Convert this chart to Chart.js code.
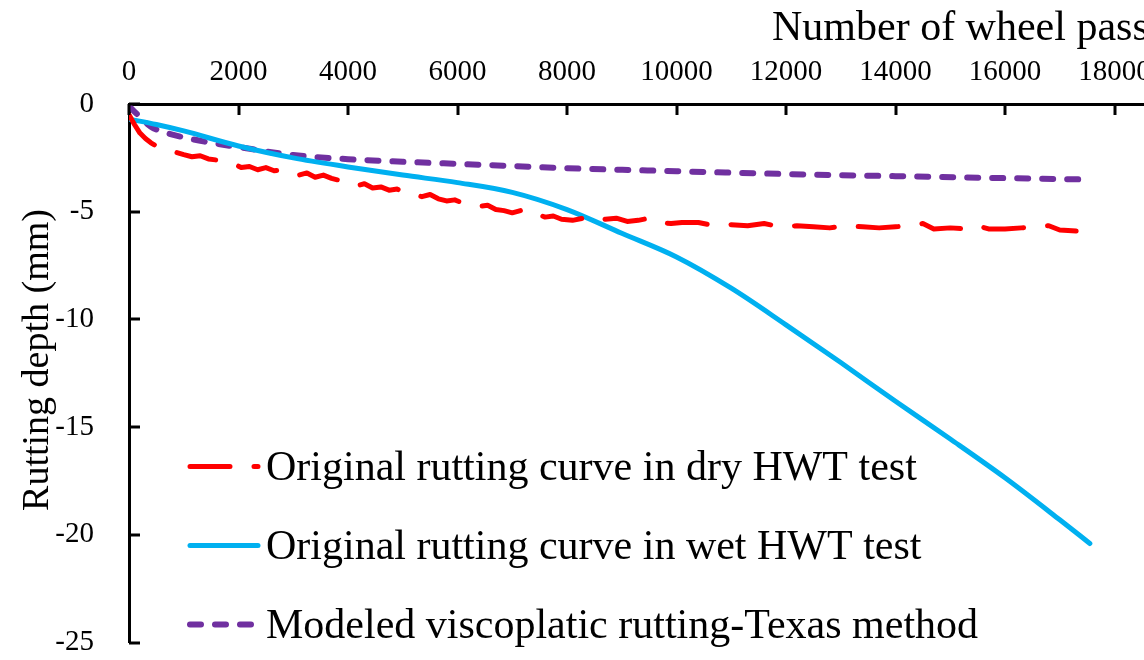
<!DOCTYPE html>
<html>
<head>
<meta charset="utf-8">
<title>Rutting depth vs wheel passes</title>
<script src="https://cdn.jsdelivr.net/npm/chart.js@4/dist/chart.umd.min.js"></script>
<style>
  html, body { margin: 0; padding: 0; background: #fff; }
  #frame { width: 1144px; height: 660px; overflow: hidden; position: relative; }
  #holder { width: 1264px; height: 660px; }
</style>
</head>
<body>
<div id="frame">
  <div id="holder"><canvas id="canvas" width="1264" height="660"></canvas></div>
</div>
<script>
// dry HWT test (measured, noisy)
const dryX = [0, 100, 200, 300, 400, 500, 600, 800, 1000, 1150, 1300, 1450, 1600, 1750, 1900, 2050,
  2200, 2350, 2500, 2650, 2800, 2950, 3100, 3250, 3400, 3550, 3700, 3850, 4000, 4150, 4300, 4450,
  4600, 4750, 4900, 5050, 5200, 5350, 5500, 5650, 5800, 5950, 6100, 6250, 6400, 6550, 6700, 6850,
  7000, 7150, 7300, 7450, 7600, 7750, 7900, 8100, 8300, 8500, 8700, 8900, 9100, 9300, 9500, 9700,
  9900, 10100, 10400, 10700, 11000, 11300, 11600, 11900, 12200, 12500, 12800, 13100, 13400, 13700,
  14000, 14300, 14500, 14700, 15000, 15300, 15500, 15700, 16000, 16300, 16600, 16800, 17000, 17300];
const dryY = [-0.5, -0.95, -1.35, -1.6, -1.8, -1.95, -2.05, -2.2, -2.35, -2.45, -2.4, -2.55, -2.6, -2.7, -2.75, -2.95,
  -2.9, -3.05, -2.95, -3.1, -3.05, -3.2, -3.3, -3.2, -3.4, -3.3, -3.45, -3.55, -3.65, -3.8, -3.7, -3.9,
  -3.85, -4.0, -3.95, -4.15, -4.2, -4.3, -4.2, -4.4, -4.5, -4.45, -4.6, -4.65, -4.75, -4.7, -4.9, -4.95,
  -5.05, -4.95, -5.15, -5.1, -5.25, -5.2, -5.35, -5.4, -5.3, -5.45, -5.35, -5.3, -5.45, -5.4, -5.3, -5.5,
  -5.55, -5.5, -5.5, -5.65, -5.6, -5.65, -5.55, -5.7, -5.65, -5.7, -5.75, -5.65, -5.7, -5.75,
  -5.7, -5.65, -5.55, -5.8, -5.75, -5.8, -5.65, -5.8, -5.8, -5.75, -5.7, -5.65, -5.85, -5.9];

// wet HWT test
const wetX = [0, 500, 1000, 2000, 3000, 4000, 5000, 6000, 7000, 8000, 9000, 10000, 11000, 12000,
  13000, 14000, 15000, 16000, 17000, 17550];
const wetY = [-0.7, -0.95, -1.25, -1.95, -2.5, -2.92, -3.3, -3.65, -4.1, -4.9, -6.0, -7.1, -8.55, -10.25,
  -12.0, -13.8, -15.55, -17.35, -19.3, -20.4];

// Texas method model
const modelX = [0, 200, 400, 700, 1000, 1500, 2000, 3000, 4000, 5000, 6000, 7000, 8000, 10000, 12000, 14000, 16000, 17400];
const modelY = [-0.1, -0.6, -1.05, -1.35, -1.55, -1.8, -2.0, -2.37, -2.56, -2.68, -2.78, -2.88, -2.98, -3.12, -3.25, -3.35, -3.44, -3.5];

const labels = [
  "Original rutting curve in dry HWT test",
  "Original rutting curve in wet HWT test",
  "Modeled viscoplatic rutting-Texas method"
];

const xTicks = { min: 0, max: 20000, step: 2000 };
const yTicks = { min: -25, max: 0, step: 5 };

const serif = '"Liberation Serif", "Times New Roman", serif';

function pts(xs, ys) {
  return xs.map((x, i) => ({ x: x, y: ys[i] }));
}

// short tick marks pointing into the plot, plus both axis titles and the legend
const decor = {
  id: 'decor',
  afterDraw(chart) {
    const { ctx, chartArea } = chart;
    const xs = chart.scales.x, ys = chart.scales.y;
    ctx.save();
    ctx.strokeStyle = '#000';
    ctx.lineWidth = 3;
    ctx.lineCap = 'butt';
    xs.ticks.forEach((t) => {
      const px = Math.round(xs.getPixelForValue(t.value));
      ctx.beginPath();
      ctx.moveTo(px, chartArea.top);
      ctx.lineTo(px, chartArea.top + 11);
      ctx.stroke();
    });
    ys.ticks.forEach((t) => {
      const py = Math.round(ys.getPixelForValue(t.value));
      ctx.beginPath();
      ctx.moveTo(chartArea.left, py);
      ctx.lineTo(chartArea.left + 11, py);
      ctx.stroke();
    });

    ctx.fillStyle = '#000';
    ctx.font = '42px ' + serif;
    ctx.textAlign = 'left';
    ctx.textBaseline = 'alphabetic';
    ctx.fillText('Number of wheel passes', chartArea.left + 643, 40);

    ctx.save();
    ctx.translate(38, 360);
    ctx.rotate(-Math.PI / 2);
    ctx.font = '38px ' + serif;
    ctx.textAlign = 'center';
    ctx.textBaseline = 'middle';
    ctx.fillText('Rutting depth (mm)', 0, 0);
    ctx.restore();

    // legend, bottom-left inside the plot
    const rows = [-176, -97, -18];
    chart.data.datasets.forEach((ds, i) => {
      const y = chartArea.bottom + rows[i];
      const x0 = chartArea.left + 61;
      ctx.save();
      ctx.strokeStyle = ds.borderColor;
      ctx.lineWidth = ds.borderWidth;
      ctx.lineCap = 'round';
      ctx.setLineDash(ds.borderDash || []);
      ctx.beginPath();
      ctx.moveTo(x0, y);
      ctx.lineTo(x0 + 68, y);
      ctx.stroke();
      ctx.restore();
      ctx.font = '42px ' + serif;
      ctx.textBaseline = 'middle';
      ctx.fillText(ds.label, chartArea.left + 137, y + 2);
    });
    ctx.restore();
  }
};

const plain = (v) => String(v);

const chart = new Chart(document.getElementById('canvas').getContext('2d'), {
  type: 'line',
  data: {
    datasets: [
      {
        label: labels[0],
        data: pts(dryX, dryY),
        borderColor: '#FF0000',
        borderWidth: 5,
        borderDash: [40, 24],
        borderCapStyle: 'round',
        borderJoinStyle: 'round',
        pointRadius: 0,
        tension: 0
      },
      {
        label: labels[1],
        data: pts(wetX, wetY),
        borderColor: '#00B0F0',
        borderWidth: 5,
        borderCapStyle: 'round',
        pointRadius: 0,
        cubicInterpolationMode: 'monotone'
      },
      {
        label: labels[2],
        data: pts(modelX, modelY),
        borderColor: '#7030A0',
        borderWidth: 6,
        borderDash: [11, 14],
        borderCapStyle: 'round',
        pointRadius: 0,
        cubicInterpolationMode: 'monotone'
      }
    ]
  },
  options: {
    responsive: false,
    animation: false,
    layout: { padding: { left: 0, top: 0, right: 40, bottom: 17 } },
    plugins: {
      legend: { display: false },
      tooltip: { enabled: false }
    },
    scales: {
      x: {
        type: 'linear',
        position: 'top',
        min: xTicks.min,
        max: xTicks.max,
        afterFit: (s) => { s.height = 104; },
        ticks: {
          stepSize: xTicks.step,
          autoSkip: false,
          maxRotation: 0,
          padding: 0,
          callback: plain,
          color: '#000',
          font: { family: serif, size: 29 }
        },
        // invisible tick length just to push the labels away from the axis
        grid: { drawOnChartArea: false, drawTicks: true, tickLength: 14, tickColor: 'rgba(0,0,0,0)' },
        border: { display: true, color: '#000', width: 3 }
      },
      y: {
        type: 'linear',
        position: 'left',
        min: yTicks.min,
        max: yTicks.max,
        afterFit: (s) => { s.width = 129; },
        ticks: {
          stepSize: yTicks.step,
          padding: 0,
          callback: plain,
          color: '#000',
          font: { family: serif, size: 29 }
        },
        grid: { drawOnChartArea: false, drawTicks: true, tickLength: 35, tickColor: 'rgba(0,0,0,0)' },
        border: { display: true, color: '#000', width: 3 }
      }
    }
  },
  plugins: [decor]
});
</script>
</body>
</html>
